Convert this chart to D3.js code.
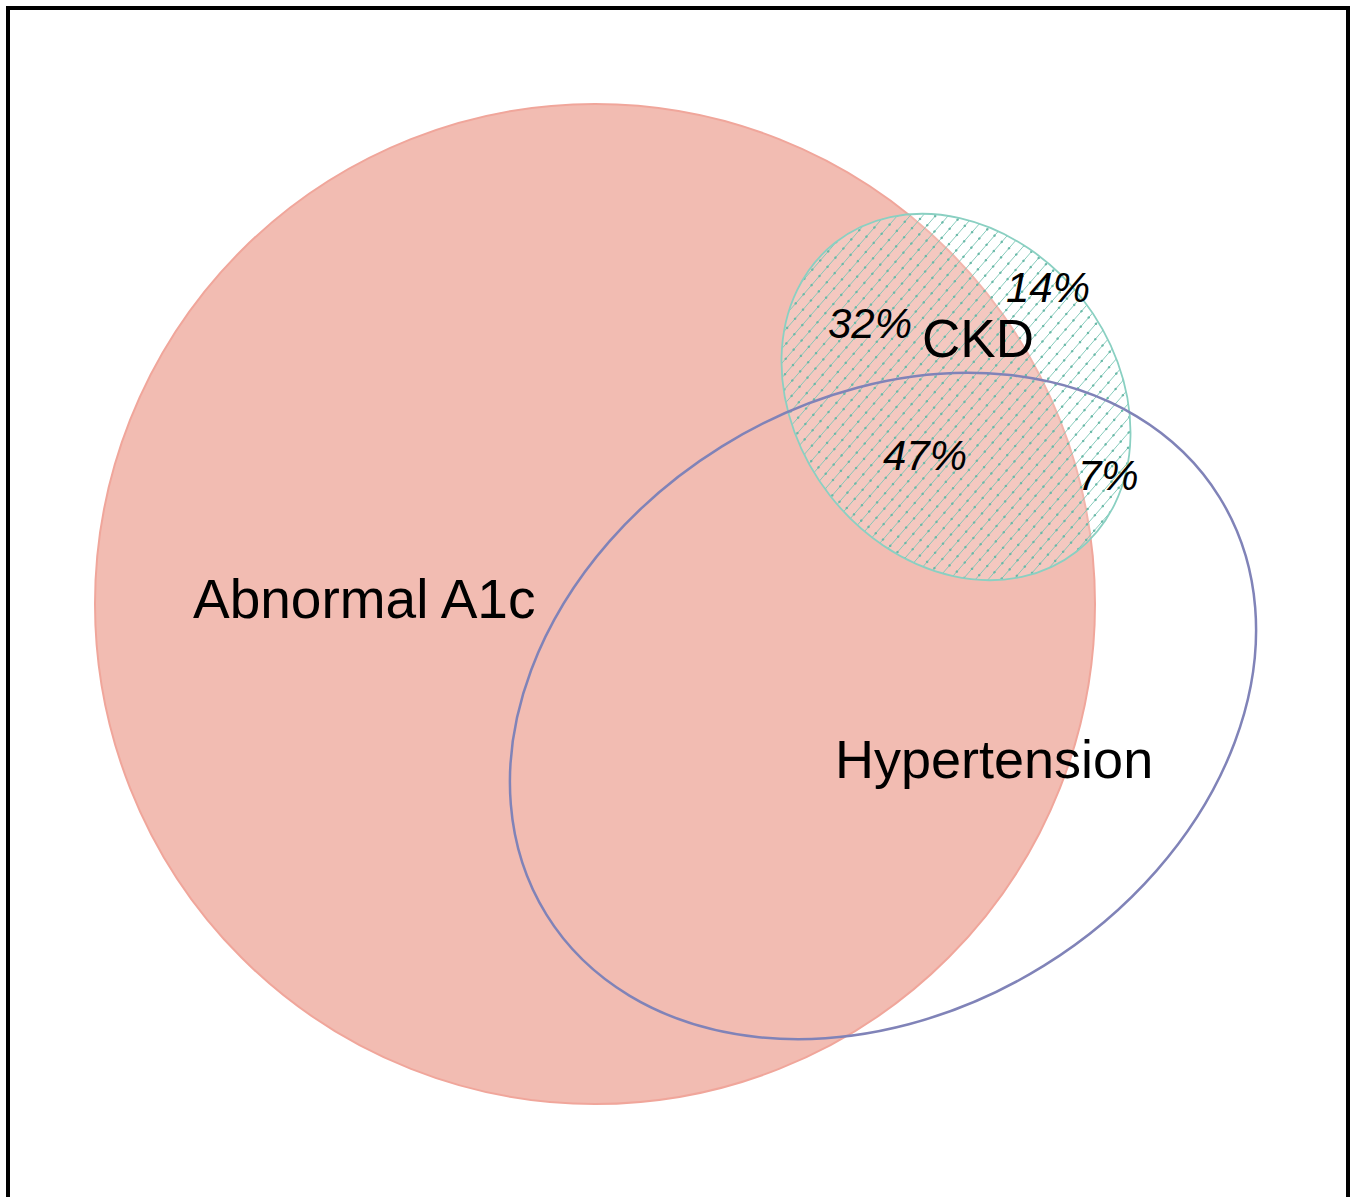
<!DOCTYPE html>
<html>
<head>
<meta charset="utf-8">
<script src="https://cdn.jsdelivr.net/npm/d3@7"></script>
<style>
  html, body { margin: 0; padding: 0; background: #fff; }
  svg { display: block; }
</style>
</head>
<body>
<div id="chart"></div>
<script>
// ---- Data (abstract units: A1c circle radius = 1, centred at 0,0) ----
const setNames   = ["Abnormal A1c", "Hypertension", "CKD"];
const setCx      = [0.000, 0.576, 0.722];
const setCy      = [0.000, 0.204, -0.414];
const setRx      = [1.000, 0.792, 0.392];
const setRy      = [1.000, 0.611, 0.320];
const setAngle   = [0, -31.8, 52];
const setLabelX  = [-0.804, 0.480, 0.654];
const setLabelY  = [0.028, 0.348, -0.494];
const setFont    = [55, 54, 53];

const regionLabels = ["32%", "14%", "47%", "7%"];
const regionX      = [0.466, 0.822, 0.576, 0.966];
const regionY      = [-0.532, -0.604, -0.268, -0.228];

// ---- Layout ----
const W = 1355, H = 1197;
const x = d3.scaleLinear().domain([-1, 1]).range([95, 1095]);
const y = d3.scaleLinear().domain([-1, 1]).range([104, 1104]);
const k = (x(1) - x(0));

const svg = d3.select("#chart").append("svg")
  .attr("width", W).attr("height", H);

svg.append("rect").attr("width", W).attr("height", H).attr("fill", "#fff");

const defs = svg.append("defs");
const ckdTransform = `translate(${x(setCx[2])},${y(setCy[2])}) rotate(${setAngle[2]})`;
defs.append("clipPath").attr("id", "ckdClip")
  .append("ellipse")
  .attr("transform", ckdTransform)
  .attr("rx", setRx[2] * k).attr("ry", setRy[2] * k);

// Abnormal A1c
svg.append("ellipse")
  .attr("cx", x(setCx[0])).attr("cy", y(setCy[0]))
  .attr("rx", setRx[0] * k).attr("ry", setRy[0] * k)
  .attr("fill", "#f2bcb2").attr("stroke", "#f0a69b").attr("stroke-width", 2);

// CKD
svg.append("ellipse")
  .attr("transform", ckdTransform)
  .attr("rx", setRx[2] * k).attr("ry", setRy[2] * k)
  .attr("fill", "rgba(255,255,255,0.18)");

// hatch lines (decoration), clipped to CKD
const hatch = svg.append("g").attr("clip-path", "url(#ckdClip)");
const hcx = x(setCx[2]), hcy = y(setCy[2]);
const R = setRx[2] * k + 20;
const ang = -49 * Math.PI / 180;
const dx = Math.cos(ang), dy = Math.sin(ang);   // line direction
const nx = -dy, ny = dx;                        // normal
const spacing = 9.6;
const offs = d3.range(-Math.ceil(R / spacing), Math.ceil(R / spacing) + 1).map(i => i * spacing);
hatch.selectAll("line.h").data(offs).join("line")
  .attr("class", "h")
  .attr("x1", o => hcx + nx * o - dx * R).attr("y1", o => hcy + ny * o - dy * R)
  .attr("x2", o => hcx + nx * o + dx * R).attr("y2", o => hcy + ny * o + dy * R)
  .attr("stroke", "#7cc6b6").attr("stroke-width", 0.9);
hatch.selectAll("line.d").data(offs).join("line")
  .attr("class", "d")
  .attr("x1", o => hcx + nx * o - dx * R).attr("y1", o => hcy + ny * o - dy * R)
  .attr("x2", o => hcx + nx * o + dx * R).attr("y2", o => hcy + ny * o + dy * R)
  .attr("stroke", "#6ab9a8").attr("stroke-width", 2.4)
  .attr("stroke-linecap", "round")
  .attr("stroke-dasharray", "0.1,12");

svg.append("ellipse")
  .attr("transform", ckdTransform)
  .attr("rx", setRx[2] * k).attr("ry", setRy[2] * k)
  .attr("fill", "none")
  .attr("stroke", "#8ad0c2").attr("stroke-width", 1.8);

// Hypertension
svg.append("ellipse")
  .attr("transform", `translate(${x(setCx[1])},${y(setCy[1])}) rotate(${setAngle[1]})`)
  .attr("rx", setRx[1] * k).attr("ry", setRy[1] * k)
  .attr("fill", "none").attr("stroke", "#8083b8").attr("stroke-width", 2.5);

// Set labels
svg.selectAll("text.set").data(setNames).join("text")
  .attr("class", "set")
  .attr("x", (d, i) => x(setLabelX[i]))
  .attr("y", (d, i) => y(setLabelY[i]))
  .attr("font-family", "'Liberation Sans', Arial, sans-serif")
  .attr("font-size", (d, i) => setFont[i])
  .attr("fill", "#000")
  .text(d => d);

// Region labels
svg.selectAll("text.region").data(regionLabels).join("text")
  .attr("class", "region")
  .attr("x", (d, i) => x(regionX[i]))
  .attr("y", (d, i) => y(regionY[i]))
  .attr("font-family", "'Liberation Sans', Arial, sans-serif")
  .attr("font-style", "italic")
  .attr("font-size", 42)
  .attr("fill", "#000")
  .text(d => d);

// Frame
svg.append("rect")
  .attr("x", 8).attr("y", 8).attr("width", 1340).attr("height", 1300)
  .attr("fill", "none").attr("stroke", "#000").attr("stroke-width", 4);
</script>
</body>
</html>
